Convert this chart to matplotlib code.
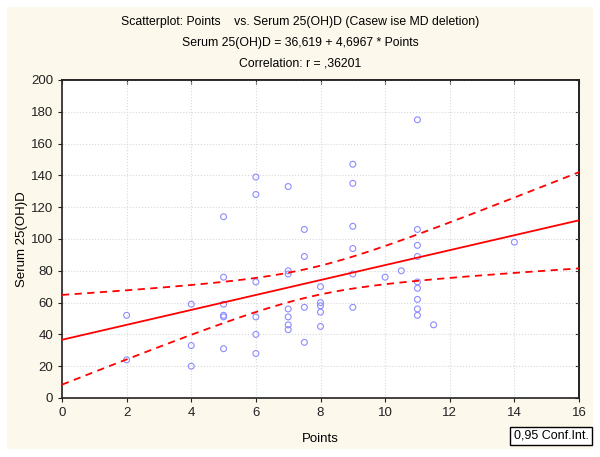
import numpy as np
import matplotlib
matplotlib.use("Agg")
import matplotlib.pyplot as plt
from matplotlib.patches import Rectangle

plt.rcParams["font.family"] = ["Liberation Sans", "DejaVu Sans"]

# points score vs serum 25(OH)D
points = [2, 2,
          4, 4, 4,
          5, 5, 5, 5, 5, 5,
          6, 6, 6, 6, 6, 6,
          7, 7, 7, 7, 7, 7, 7,
          7.5, 7.5, 7.5, 7.5,
          8, 8, 8, 8, 8,
          9, 9, 9, 9, 9, 9,
          10, 10.5,
          11, 11, 11, 11, 11, 11, 11, 11, 11,
          11.5, 14]
serum = [52, 24,
         59, 33, 20,
         114, 76, 59, 52, 51, 31,
         139, 128, 73, 51, 40, 28,
         133, 80, 78, 56, 51, 46, 43,
         106, 89, 57, 35,
         70, 60, 58, 54, 45,
         147, 135, 108, 94, 78, 57,
         76, 80,
         175, 106, 96, 89, 73, 69, 62, 56, 52,
         46, 98]

intercept, slope = 36.619, 4.6967
t_crit = 2.009  # t(0.975, df=50)

x = np.array(points, float)
y = np.array(serum, float)
n = len(x)
resid = y - (intercept + slope * x)
s = np.sqrt((resid ** 2).sum() / (n - 2))
sxx = ((x - x.mean()) ** 2).sum()

xs = np.linspace(0, 16, 60)
fit = intercept + slope * xs
half = t_crit * s * np.sqrt(1.0 / n + (xs - x.mean()) ** 2 / sxx)

fig = plt.figure(figsize=(6.0, 4.57), dpi=100)
fig.patch.set_facecolor("white")
fig.patches.append(Rectangle((7 / 600, 1 - 449 / 457), 586 / 600, 442 / 457,
                             transform=fig.transFigure, facecolor="#fdf8ec",
                             edgecolor="none", zorder=-10))
ax = fig.add_axes([62 / 600, 1 - 398 / 457, 517 / 600, 318 / 457])
ax.set_facecolor("white")

ax.scatter(x, y, s=18, facecolors="none", edgecolors="#8c8cff", linewidths=0.8, zorder=3)
ax.plot(xs, fit, color="#ff0000", lw=1.3, zorder=4)
ax.plot(xs, fit + half, color="#ff0000", lw=1.3, ls=(0, (4, 3)), zorder=4)
ax.plot(xs, fit - half, color="#ff0000", lw=1.3, ls=(0, (4, 3)), zorder=4)

ax.set_xlim(0, 16)
ax.set_ylim(0, 200)
ax.set_xticks(range(0, 17, 2))
ax.set_yticks(range(0, 201, 20))
ax.grid(True, color="#d8d8d8", ls=":", lw=0.8)
ax.set_axisbelow(True)

# outward ticks bottom/left, inward ticks on the top/right frame (secondary axes)
ax.tick_params(labelsize=9.5, length=3, color="#222222", labelcolor="#222222", direction="out")
sx = ax.secondary_xaxis("top")
sx.set_xticks(range(0, 17, 2))
sx.tick_params(direction="in", length=3, labeltop=False, color="#222222")
sy = ax.secondary_yaxis("right")
sy.set_yticks(range(0, 201, 20))
sy.tick_params(direction="in", length=3, labelright=False, color="#222222")
for a in (ax, sx, sy):
    for sp in a.spines.values():
        sp.set_linewidth(1.2)
        sp.set_color("#222222")

ax.set_xlabel("Points", fontsize=9.5, labelpad=10)
ax.set_ylabel("Serum 25(OH)D", fontsize=9.5, labelpad=2)

fig.text(0.5, 1 - 22 / 457, "Scatterplot: Points    vs. Serum 25(OH)D (Casew ise MD deletion)",
         ha="center", va="center", fontsize=8.8)
fig.text(0.5, 1 - 43 / 457, "Serum 25(OH)D = 36,619 + 4,6967 * Points",
         ha="center", va="center", fontsize=8.8)
fig.text(0.5, 1 - 64 / 457, "Correlation: r = ,36201",
         ha="center", va="center", fontsize=8.8)
fig.text(551 / 600, 1 - 436 / 457, "0,95 Conf.Int.", ha="center", va="center", fontsize=9,
         bbox=dict(boxstyle="square,pad=0.25", facecolor="white", edgecolor="black", lw=1))

fig.savefig("out.png", dpi=100, facecolor=fig.get_facecolor())
